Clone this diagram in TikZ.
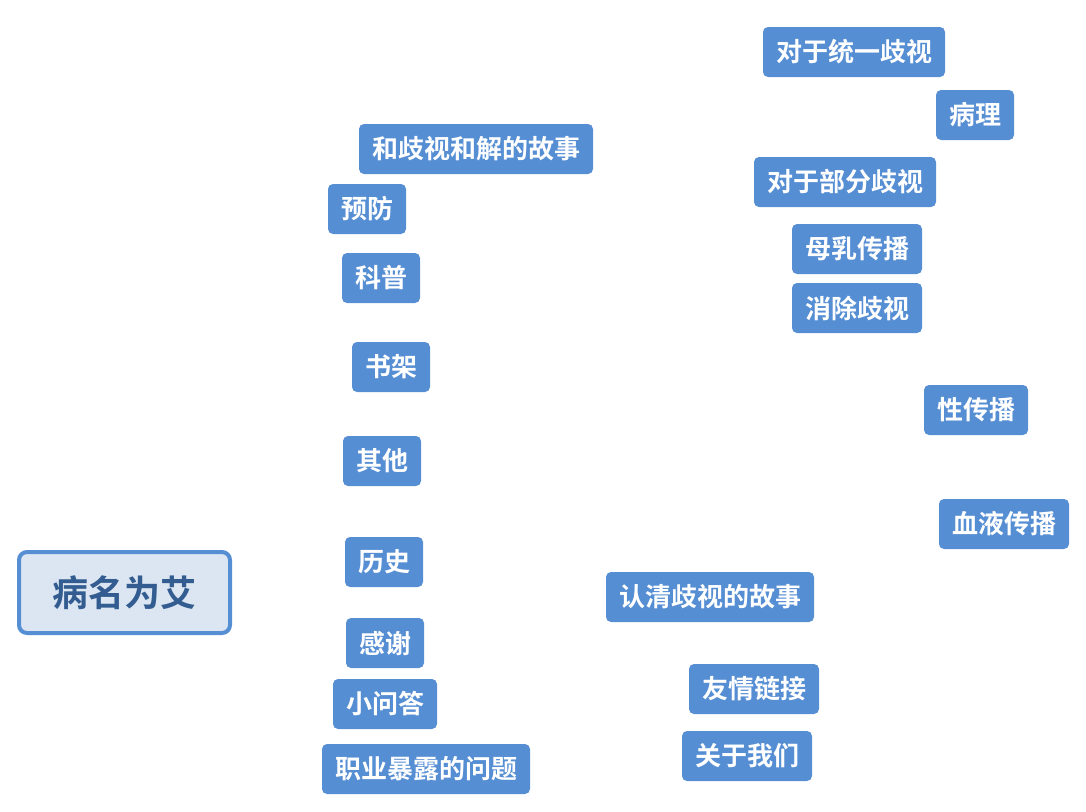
\documentclass[tikz,border=0pt]{standalone}
\usepackage{fontspec}
\newfontfamily\cjk{Noto Sans CJK SC}[BoldFont={Noto Sans CJK SC Bold}]
\definecolor{leafblue}{HTML}{568ED4}
\definecolor{rootfill}{HTML}{DCE6F2}
\definecolor{rootedge}{HTML}{568ED4}
\definecolor{roottext}{HTML}{335D90}
\begin{document}
\begin{tikzpicture}[x=1pt,y=-1pt,
  leaf/.style={fill=leafblue, draw=none, rounded corners=5pt, inner sep=0pt,
    minimum height=50pt, text=white, font=\cjk\bfseries\fontsize{26}{30}\selectfont},
  root/.style={fill=rootfill, draw=rootedge, line width=4pt, rounded corners=8pt,
    inner sep=0pt, minimum width=211pt, minimum height=81pt, text=roottext,
    font=\cjk\bfseries\fontsize{36}{40}\selectfont}]
\useasboundingbox (0,0) rectangle (1086,811);
% central topic
\node[root] (root) at (124.5,592.5) {病名为艾};
% left column
\node[leaf, minimum width=234pt] (hejie) at (476,149) {和歧视和解的故事};
\node[leaf, minimum width=78pt]  (yufang) at (367,209) {预防};
\node[leaf, minimum width=78pt]  (kepu) at (381,278) {科普};
\node[leaf, minimum width=78pt]  (shujia) at (391,367) {书架};
\node[leaf, minimum width=78pt]  (qita) at (382,461) {其他};
\node[leaf, minimum width=78pt]  (lishi) at (384,562) {历史};
\node[leaf, minimum width=78pt]  (ganxie) at (385,643) {感谢};
\node[leaf, minimum width=104pt] (wenda) at (385,704) {小问答};
\node[leaf, minimum width=208pt] (zhiye) at (426,769) {职业暴露的问题};
% right side
\node[leaf, minimum width=182pt] (tongyi) at (854,52) {对于统一歧视};
\node[leaf, minimum width=78pt]  (bingli) at (975,115) {病理};
\node[leaf, minimum width=182pt] (bufen) at (845,182) {对于部分歧视};
\node[leaf, minimum width=130pt] (muru) at (857,249) {母乳传播};
\node[leaf, minimum width=130pt] (xiaochu) at (857,308) {消除歧视};
\node[leaf, minimum width=104pt] (xing) at (976,410) {性传播};
\node[leaf, minimum width=130pt] (xueye) at (1004,524) {血液传播};
\node[leaf, minimum width=208pt] (renqing) at (710,597) {认清歧视的故事};
\node[leaf, minimum width=130pt] (youqing) at (754,689) {友情链接};
\node[leaf, minimum width=130pt] (guanyu) at (747,756) {关于我们};
\end{tikzpicture}
\end{document}
